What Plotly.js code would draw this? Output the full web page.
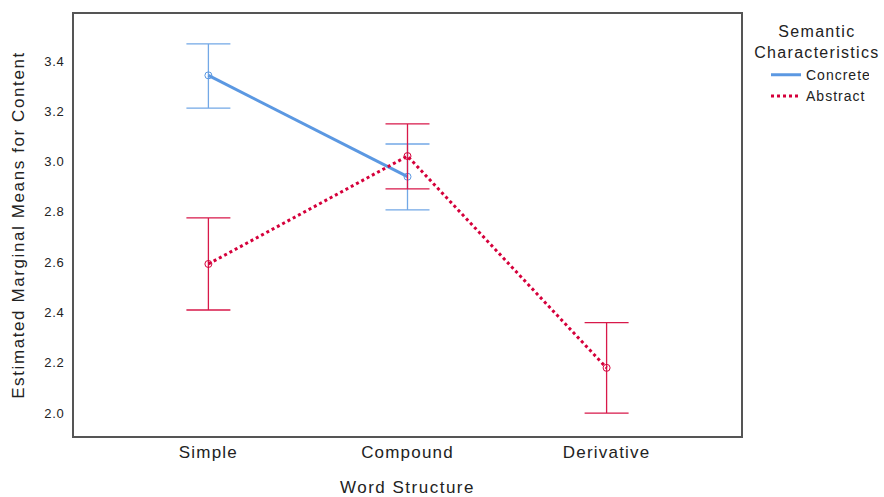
<!DOCTYPE html>
<html><head><meta charset="utf-8">
<script src="https://cdn.plot.ly/plotly-3.0.1.min.js"></script>
<style>html,body{margin:0;padding:0;background:#fff}#chart{width:884px;height:497px}
#chart text{letter-spacing:0.7px}
#chart .ytitle{letter-spacing:1.6px}
#chart .xtitle{letter-spacing:1.5px}
#chart .xtick text{letter-spacing:1.2px}
#chart .annotation-text{letter-spacing:1.3px}
#chart .legendtext{letter-spacing:1.0px}
</style>
</head><body><div id="chart"></div>
<script>
const categories = ["Simple", "Compound", "Derivative"];
const concreteMean = [3.343, 2.940, null];
const concreteUpper = [3.468, 3.070, null];
const concreteLower = [3.213, 2.808, null];
const abstractMean = [2.593, 3.022, 2.180];
const abstractUpper = [2.776, 3.150, 2.360];
const abstractLower = [2.410, 2.892, 2.000];
const yTicks = [2.0, 2.2, 2.4, 2.6, 2.8, 3.0, 3.2, 3.4];
const legendTitle = "Semantic<br>Characteristics";

const xIdx = categories.map((c, i) => i);
function plus(m, u){ return m.map((v,i)=> v==null?null:u[i]-v); }
function minus(m, l){ return m.map((v,i)=> v==null?null:v-l[i]); }

const font = "Liberation Sans, Arial, sans-serif";
const cBlue = "#5b98e2", cRed = "#d5003b";
const traces = [
  {
    name: "Concrete", x: xIdx, y: concreteMean, type: "scatter", mode: "lines+markers",
    showlegend: false,
    line: {color: cBlue, width: 3},
    marker: {symbol: "circle-open", size: 7, color: cBlue, line:{width:1}},
    error_y: {type: "data", symmetric: false, array: plus(concreteMean, concreteUpper),
      arrayminus: minus(concreteMean, concreteLower), color: "#73a8e6", thickness: 1.3, width: 22},
    connectgaps: false
  },
  {
    name: "Abstract", x: xIdx, y: abstractMean, type: "scatter", mode: "lines+markers",
    showlegend: false,
    line: {color: cRed, width: 3, dash: "dot"},
    marker: {symbol: "circle-open", size: 7, color: cRed, line:{width:1}},
    error_y: {type: "data", symmetric: false, array: plus(abstractMean, abstractUpper),
      arrayminus: minus(abstractMean, abstractLower), color: "#d8194a", thickness: 1.3, width: 22}
  },
  { name: "Concrete", x: [null], y: [null], type: "scatter", mode: "lines",
    line: {color: cBlue, width: 3}, showlegend: true },
  { name: "Abstract", x: [null], y: [null], type: "scatter", mode: "lines",
    line: {color: cRed, width: 3, dash: "dot"}, showlegend: true }
];
const layout = {
  width: 884, height: 497,
  margin: {l: 74, r: 143, t: 14, b: 61},
  paper_bgcolor: "#fff", plot_bgcolor: "#fff",
  font: {family: font, color: "#222"},
  showlegend: true,
  legend: {
    x: 1.0375, xanchor: "left", y: 0.893, yanchor: "top",
    font: {size: 14, color: "#222"},
    itemwidth: 30, tracegroupgap: 0, bgcolor: "rgba(0,0,0,0)",
    borderwidth: 0
  },
  annotations: [{
    text: legendTitle, xref: "paper", yref: "paper", x: 1.114, xanchor: "center",
    y: 1.0, yanchor: "top", yshift: -7, showarrow: false, align: "center",
    font: {size: 16, color: "#222"}
  }],
  xaxis: {
    range: [-0.675, 2.675], tickvals: xIdx, ticktext: categories,
    showgrid: false, zeroline: false, ticks: "",
    showline: true, linecolor: "#555", linewidth: 2, mirror: true,
    tickfont: {size: 17, color: "#222"},
    title: {text: "Word Structure", font: {size: 17, color: "#222"}, standoff: 25}
  },
  yaxis: {
    range: [1.909, 3.587], tickvals: yTicks, ticktext: yTicks.map(v => v.toFixed(1)),
    showgrid: false, zeroline: false, ticks: "",
    showline: true, linecolor: "#555", linewidth: 2, mirror: true,
    ticklabelstandoff: 5,
    tickfont: {size: 13, color: "#222"},
    title: {text: "Estimated Marginal Means for Content", font: {size: 17, color: "#222"}, standoff: 17}
  }
};
Plotly.newPlot("chart", traces, layout, {displayModeBar: false, staticPlot: true});
</script></body></html>
